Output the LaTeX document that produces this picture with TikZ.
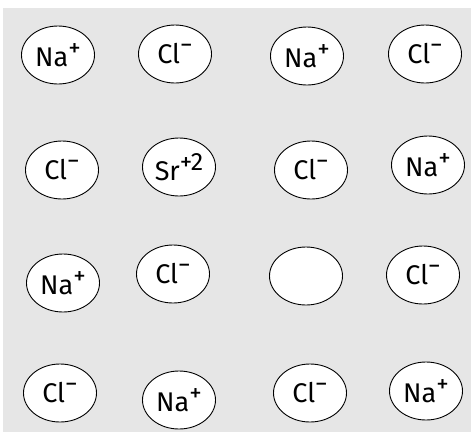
\documentclass[tikz,border=0pt]{standalone}
\usepackage{fontspec}
\setmainfont{Fira Sans}
\usetikzlibrary{shapes.geometric}
\definecolor{BgClr}{rgb}{0.902,0.902,0.902}
\definecolor{IonClr}{rgb}{1,1,1}
\newcommand{\ionsup}[1]{\raisebox{10pt}{\fontsize{25}{25}\selectfont #1}}

\begin{document}
\begin{tikzpicture}[x=1pt,y=-1pt,
  ion/.style={ellipse,draw=black,line width=0.9pt,fill=IonClr,
    minimum width=73pt,minimum height=58pt,inner sep=0pt,
    font=\fontsize{27}{27}\selectfont}]
\useasboundingbox (0,0) rectangle (471,432);
\fill[BgClr] (3,8) rectangle (471,432);

% first row
\node[ion] (na11) at (58,55)  {Na\ionsup{+}};
\node[ion] (cl12) at (175,54) {Cl\ionsup{−}};
\node[ion] (na13) at (307,56) {Na\ionsup{+}};
\node[ion] (cl14) at (425,54) {Cl\ionsup{−}};

% second row
\node[ion] (cl21) at (62,170)  {Cl\ionsup{−}};
\node[ion] (sr22) at (179,167) {Sr\ionsup{+2}};
\node[ion] (cl23) at (311,170) {Cl\ionsup{−}};
\node[ion] (na24) at (428,165) {Na\ionsup{+}};

% third row (vacancy)
\node[ion] (na31) at (63,283)  {Na\ionsup{+}};
\node[ion] (cl32) at (173,274) {Cl\ionsup{−}};
\node[ion] (vac33) at (306,276) {};
\node[ion] (cl34) at (423,275) {Cl\ionsup{−}};

% fourth row
\node[ion] (cl41) at (60,393)  {Cl\ionsup{−}};
\node[ion] (na42) at (179,400) {Na\ionsup{+}};
\node[ion] (cl43) at (310,393) {Cl\ionsup{−}};
\node[ion] (na44) at (426,391) {Na\ionsup{+}};

\end{tikzpicture}
\end{document}
